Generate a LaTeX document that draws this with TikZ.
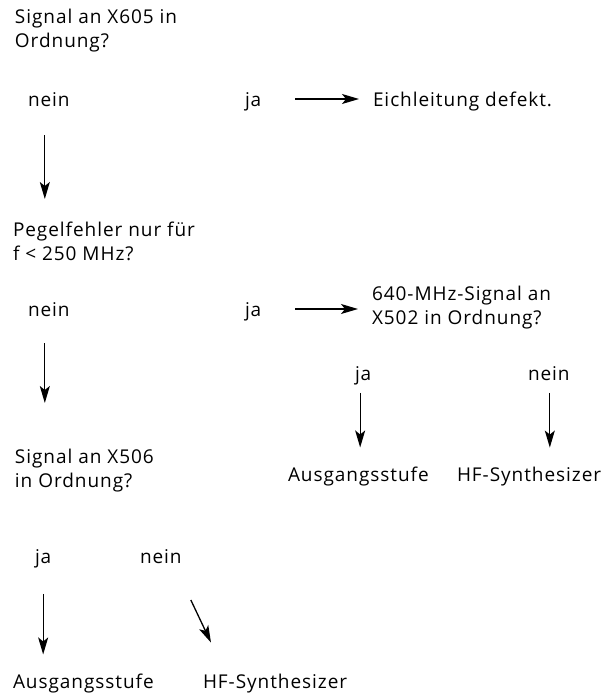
\documentclass[tikz,border=0pt]{standalone}
\usepackage{fontspec}
\setmainfont{Open Sans}[LetterSpace=5]
\usetikzlibrary{arrows.meta}

\begin{document}
\begin{tikzpicture}[
        x=1pt, y=1pt,
        every node/.style={inner sep=0pt, outer sep=0pt, font=\fontsize{19}{24}\selectfont},
        question/.style={anchor=north west, align=left},
        answer/.style={anchor=base west},
        result/.style={anchor=base west},
        arr/.style={draw, -{Stealth[length=17pt, width=10pt, inset=4pt]}, line width=1.3pt},
    ]
    \useasboundingbox (0,0) rectangle (608,697);

    % first question
    \node[question](x605) at (15,688) {Signal an X605 in\\Ordnung?};
    \node[answer](nein1) at (28,590) {nein};
    \node[answer](ja1) at (245,590) {ja};
    \node[result](eich) at (373,590) {Eichleitung defekt.};

    % second question
    \node[question](pegel) at (13,475) {Pegelfehler nur für\\f < 250 MHz?};
    \node[answer](nein2) at (28,380) {nein};
    \node[answer](ja2) at (245,380) {ja};
    \node[question](x502) at (372,411) {640-MHz-Signal an\\X502 in Ordnung?};
    \node[answer](ja3) at (355,316) {ja};
    \node[answer](nein3) at (528,316) {nein};
    \node[result](stufe1) at (288,215) {Ausgangsstufe};
    \node[result](synth1) at (457,215) {HF-Synthesizer};

    % third question
    \node[question](x506) at (15,248) {Signal an X506\\in Ordnung?};
    \node[answer](ja4) at (35,133) {ja};
    \node[answer](nein4) at (140,133) {nein};
    \node[result](stufe2) at (13,9) {Ausgangsstufe};
    \node[result](synth2) at (203,9) {HF-Synthesizer};

    % arrows
    \draw[arr, shorten <=28pt, shorten >=23pt] ([xshift=-4pt]nein1.south) -- ([xshift=-4pt]nein1.south |- pegel.north);
    \draw[arr, shorten <=34pt, shorten >=14pt] ([yshift=8pt]ja1.base east) -- ([yshift=8pt]ja1.base east -| eich.west);
    \draw[arr, shorten <=26pt, shorten >=46pt] ([xshift=-4pt]nein2.south) -- ([xshift=-4pt]nein2.south |- x506.north);
    \draw[arr, shorten <=34pt, shorten >=14pt] ([yshift=8pt]ja2.base east) -- ([yshift=8pt]ja2.base east -| x502.west);
    \draw[arr, shorten <=12pt, shorten >=20pt] ([xshift=-3pt]ja3.base) -- ([xshift=-3pt]ja3.base |- stufe1.north);
    \draw[arr, shorten <=12pt, shorten >=20pt] ([xshift=1pt]nein3.base) -- ([xshift=1pt]nein3.base |- synth1.north);
    \draw[arr, shorten <=30pt, shorten >=19pt] (ja4.base) -- (ja4.base |- stufe2.north);
    \draw[arr] ([shift={(30pt,-36pt)}]nein4.base) -- ([shift={(8pt,31pt)}]synth2.north west);

\end{tikzpicture}
\end{document}
